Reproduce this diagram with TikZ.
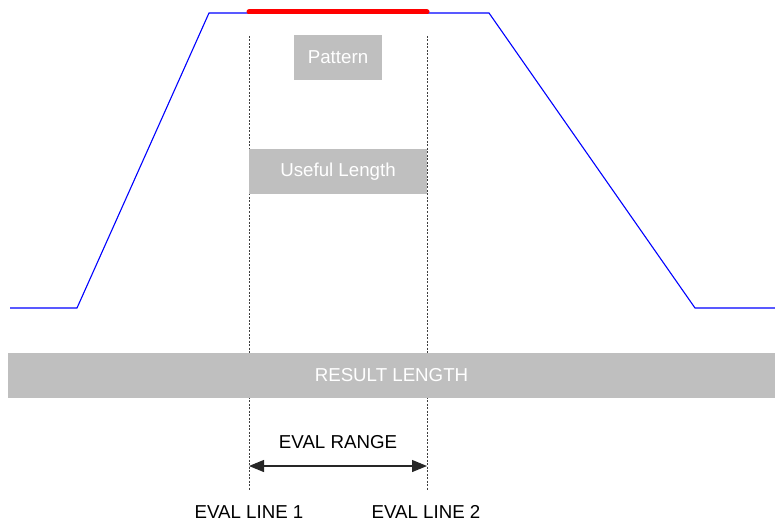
\documentclass[tikz,border=0pt]{standalone}
\usepackage{fontspec}
\setmainfont{Liberation Sans}
\usetikzlibrary{arrows.meta}
\begin{document}
\begin{tikzpicture}[x=1pt,y=-1pt,
  greybox/.style={fill={rgb,255:red,191;green,191;blue,191},draw=none,text=white,font=\fontsize{18.7}{22}\selectfont,inner sep=0pt},
  evalline/.style={draw=black!75,line width=0.8pt,dash pattern=on 2pt off 1.5pt},
  profile/.style={draw=blue,line width=1.1pt,line join=miter},
  lbl/.style={font=\fontsize{18.7}{22}\selectfont,inner sep=0pt}]
\useasboundingbox (0,0) rectangle (775,521);
% profile
\coordinate (p0) at (10,308);
\coordinate (p1) at (77,308);
\coordinate (p2) at (209,13);
\coordinate (p3) at (489,13);
\coordinate (p4) at (695,308);
\coordinate (p5) at (775,308);
\draw[profile] (p0) -- (p1) -- (p2) -- (p3) -- (p4) -- (p5);
% pattern segment
\coordinate (r1) at (249,12);
\coordinate (r2) at (427,12);
\draw[red,line width=5pt,line cap=round] (r1) -- (r2);
% eval lines
\coordinate (e1t) at (249,36);
\coordinate (e1b) at (249,491);
\coordinate (e2t) at (427,36);
\coordinate (e2b) at (427,491);
\draw[evalline] (e1t) -- (e1b);
\draw[evalline] (e2t) -- (e2b);
% boxes
\node[greybox,minimum width=88pt,minimum height=45pt] (pattern) at (338,57.5) {Pattern};
\node[greybox,minimum width=178pt,minimum height=45pt] (useful) at (338,171.5) {Useful Length};
\node[greybox,minimum width=767pt,minimum height=45pt] (result) at (391.5,375.5) {RESULT LENGTH};
% eval range
\coordinate (a1) at (249,466);
\coordinate (a2) at (427,466);
\draw[black!85,line width=1.2pt,{Triangle[length=15pt,width=12pt]}-{Triangle[length=15pt,width=12pt]}] (a1) -- (a2);
\node[lbl] (range) at (338,442) {EVAL RANGE};
\node[lbl] (l1) at (249,512) {EVAL LINE 1};
\node[lbl] (l2) at (426,512) {EVAL LINE 2};
\end{tikzpicture}
\end{document}
